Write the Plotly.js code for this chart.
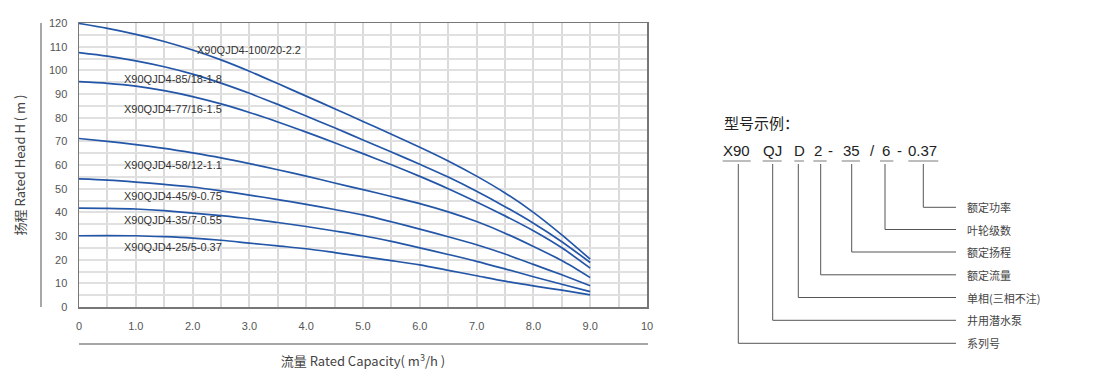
<!DOCTYPE html>
<html>
<head>
<meta charset="utf-8">
<script src="https://cdn.plot.ly/plotly-3.0.1.min.js"></script>
<style>html,body{margin:0;padding:0;background:#fff;}#chart{width:1100px;height:390px;}</style>
</head>
<body>
<div id="chart"></div>
<script>
// ---------- data ----------
const flow = [0,0.5,1,1.5,2,2.5,3,3.5,4,4.5,5,5.5,6,6.5,7,7.5,8,8.5,9];
const head_100_20 = [119.8,117.7,115.2,112.2,108.6,104.4,99.6,94.4,89.1,83.8,78.4,73,67.5,61.7,55.3,48.2,40,30.5,20.2];
const head_85_18  = [107.5,106,104,101.5,98.4,94.6,90.3,85.6,80.7,75.7,70.6,65.5,60.3,54.9,48.9,42.4,35.4,27.6,18.8];
const head_77_16  = [95.2,94.5,93.3,91.4,88.9,85.8,82.2,78.2,73.9,69.4,64.8,60.1,55.2,50,44.4,38.5,32.2,25,16.4];
const head_58_12  = [71.2,70,68.6,67,65.1,63,60.6,58,55.3,52.4,49.6,46.7,43.7,40.2,36.1,31.2,25.6,19.6,12.4];
const head_45_9   = [54.1,53.6,52.8,51.8,50.7,49.1,47.3,45.4,43.4,41.2,38.9,36,32.9,29.7,26.3,22.4,18,13.6,9.0];
const head_35_7   = [41.8,41.7,41.4,40.7,39.7,38.6,37.3,35.7,34,32.1,30.1,27.7,25,22.2,19.3,16.1,12.8,9.6,6.5];
const head_25_5   = [30.1,30.2,30.1,29.7,29.1,28.2,27,25.8,24.6,23,21.3,19.6,17.8,15.5,13.2,10.9,8.9,7.1,5.1];

const seriesNames = ["X90QJD4-100/20-2.2","X90QJD4-85/18-1.8","X90QJD4-77/16-1.5","X90QJD4-58/12-1.1","X90QJD4-45/9-0.75","X90QJD4-35/7-0.55","X90QJD4-25/5-0.37"];
const seriesHeads = [head_100_20, head_85_18, head_77_16, head_58_12, head_45_9, head_35_7, head_25_5];
// label anchor (flow, head)
const labelFlow = [2.05,0.76,0.76,0.76,0.76,0.76,0.76];
const labelHead = [108.5,96.2,83.5,60.2,47,36.9,25.5];

// grid every 0.5 on x, every 5 on y; labels only on whole steps
const xTickVals = [0,0.5,1,1.5,2,2.5,3,3.5,4,4.5,5,5.5,6,6.5,7,7.5,8,8.5,9,9.5,10];
const xTickText = ["0","","1.0","","2.0","","3.0","","4.0","","5.0","","6.0","","7.0","","8.0","","9.0","","10"];
const yTickVals = [0,5,10,15,20,25,30,35,40,45,50,55,60,65,70,75,80,85,90,95,100,105,110,115,120];
const yTickText = ["0","","10","","20","","30","","40","","50","","60","","70","","80","","90","","100","","110","","120"];

const modelTitle = "型号示例：";
const modelParts = ["X90","QJ","D","2","-","35","/","6","-","0.37"];
const partMeanings = ["系列号","井用潜水泵","单相(三相不注)","额定流量","额定扬程","叶轮级数","额定功率"];

// ---------- layout helpers (pixel -> paper) ----------
const L = 79, R = 647, T = 23, B = 307;
const px = x => (x - L) / (R - L);
const py = y => (B - y) / (B - T);

const lineColor = '#2456a8';
const traces = seriesHeads.map((h, i) => ({
  x: flow, y: h, type: 'scatter', mode: 'lines', name: seriesNames[i],
  line: {color: lineColor, width: 1.7, shape: 'spline', smoothing: 0.8},
  hoverinfo: 'skip'
}));

const annotations = [];
seriesNames.forEach((n, i) => annotations.push({
  x: labelFlow[i], y: labelHead[i], xref: 'x', yref: 'y', text: n, showarrow: false,
  xanchor: 'left', yanchor: 'middle', font: {family: 'Liberation Sans, Arial, sans-serif', size: 11, color: '#333'}
}));

// right-side model diagram
const partCenters = [736.7,772,799,818,830.8,851,872,886,899,922.8];
const rowY = 150;
annotations.push({x: px(722), y: py(122), xref: 'paper', yref: 'paper', text: modelTitle, showarrow: false,
  xanchor: 'left', yanchor: 'middle', font: {family: 'Noto Sans CJK SC, sans-serif', size: 15, color: '#222'}});
modelParts.forEach((p, i) => annotations.push({
  x: px(partCenters[i]), y: py(rowY), xref: 'paper', yref: 'paper', text: p, showarrow: false,
  xanchor: 'center', yanchor: 'middle', font: {family: 'Liberation Sans, Arial, sans-serif', size: 15, color: '#222'}
}));
// underline segments and leader lines for the 7 meaningful parts (X90,QJ,D,2,35,6,0.37)
const underl = [[722.7,750.7],[762.7,781.7],[794.3,804],[813.3,826.7],[841.7,860],[880,893.3],[908.3,938.3]];
const leaderX = [738.3,772.7,798.3,820.7,851.7,885,923.3];
const leaderY = [343.3,320.3,297.5,274.8,252,229.5,207.3];
const shapes = [];
const gray = '#8a8a8a';
underl.forEach(u => shapes.push({type: 'line', xref: 'paper', yref: 'paper', x0: px(u[0]), x1: px(u[1]), y0: py(161), y1: py(161), line: {color: '#9a9a9a', width: 1.3}}));
leaderX.forEach((lx, i) => {
  shapes.push({type: 'path', xref: 'paper', yref: 'paper',
    path: `M ${px(lx)} ${py(164)} L ${px(lx)} ${py(leaderY[i])} L ${px(956)} ${py(leaderY[i])}`,
    line: {color: '#555', width: 1}});
  annotations.push({x: px(965), y: py(leaderY[i]), xref: 'paper', yref: 'paper', text: partMeanings[i], showarrow: false,
    xanchor: 'left', yanchor: 'middle', font: {family: 'Noto Sans CJK SC, sans-serif', size: 11, color: '#444'}});
});
// decorative side and bottom rules of the chart
shapes.push({type: 'line', xref: 'paper', yref: 'paper', x0: px(41), x1: px(41), y0: py(23), y1: py(307), line: {color: gray, width: 1.5}});
shapes.push({type: 'line', xref: 'paper', yref: 'paper', x0: px(79), x1: px(648), y0: py(344), y1: py(344), line: {color: gray, width: 1.5}});

const layout = {
  width: 1100, height: 390,
  margin: {l: L, r: 1100 - R, t: T, b: 390 - B, pad: 0},
  paper_bgcolor: '#fff', plot_bgcolor: '#fff',
  showlegend: false,
  font: {family: 'Liberation Sans, Arial, sans-serif', color: '#444'},
  xaxis: {
    range: [0, 10], tickmode: 'array', tickvals: xTickVals, ticktext: xTickText, ticks: '', ticklabelstandoff: 8,
    tickfont: {size: 11, color: '#555'},
    showgrid: true, gridcolor: '#dadada', gridwidth: 2, zeroline: false,
    showline: true, linecolor: '#777', linewidth: 1.5, mirror: true,
    title: {text: '流量 Rated Capacity( m<sup>3</sup>/h )', standoff: 26, font: {family: 'Noto Sans CJK SC, Liberation Sans, sans-serif', size: 13, color: '#444'}},
    fixedrange: true
  },
  yaxis: {
    range: [0, 120], tickmode: 'array', tickvals: yTickVals, ticktext: yTickText, ticks: '', ticklabelstandoff: 8,
    tickfont: {size: 11, color: '#555'},
    showgrid: true, gridcolor: '#e0e0e0', gridwidth: 2, zeroline: false,
    showline: true, linecolor: '#777', linewidth: 1.5, mirror: true,
    title: {text: '扬程 Rated Head H ( m )', standoff: 20, font: {family: 'Noto Sans CJK SC, Liberation Sans, sans-serif', size: 13, color: '#444'}},
    fixedrange: true
  },
  shapes: shapes,
  annotations: annotations
};
Plotly.newPlot('chart', traces, layout, {displayModeBar: false, staticPlot: true});
</script>
</body>
</html>
